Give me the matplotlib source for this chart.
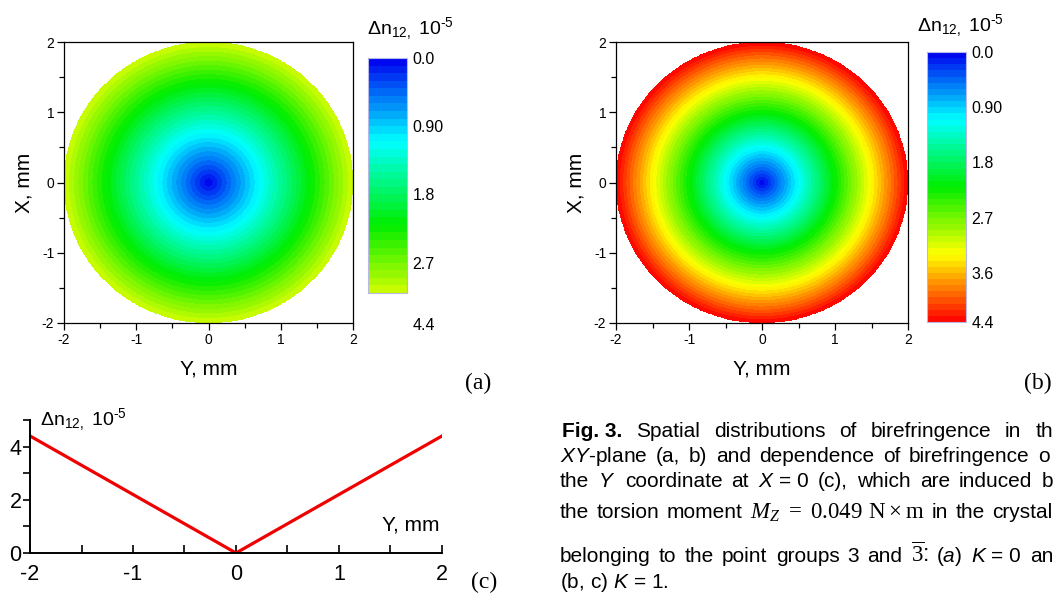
import numpy as np
import matplotlib
matplotlib.use("Agg")
import matplotlib.pyplot as plt
from matplotlib.colors import LinearSegmentedColormap, Normalize

plt.rcParams['font.family'] = ['Liberation Sans', 'DejaVu Sans']
plt.rcParams['axes.unicode_minus'] = False
plt.rcParams['mathtext.fontset'] = 'custom'
plt.rcParams['mathtext.rm'] = 'Liberation Sans'
plt.rcParams['mathtext.it'] = 'Liberation Sans:italic'
plt.rcParams['mathtext.bf'] = 'Liberation Sans:bold'
plt.rcParams['mathtext.sf'] = 'Liberation Serif'
plt.rcParams['mathtext.tt'] = 'Liberation Serif:italic'

# radial profiles of birefringence (10^-5)
r_profile = [0.0, 2.0]
dn_a = [0.0, 3.1]      # K = 0
dn_b = [0.0, 4.4]      # K = 1
radius = 2.0

levels_a = np.round(np.arange(0, 3.11, 0.1), 2)
levels_b = np.round(np.arange(0, 4.41, 0.1), 2)
cbar_ticks = [0.0, 0.9, 1.8, 2.7, 3.6, 4.4]
cbar_labels = ["0.0", "0.90", "1.8", "2.7", "3.6", "4.4"]

# profile along Y at X = 0
y_line = [-2.0, 0.0, 2.0]
dn_line = [4.4, 0.0, 4.4]

dn_title = "Δn$_{12,}$ 10$^{\u2010 5}$"

cmap = LinearSegmentedColormap.from_list(
    "origin_rainbow",
    [(0.0, "#0000F0"), (0.25, "#00FFFF"), (0.5, "#00EE00"),
     (0.75, "#FFFF00"), (1.0, "#FF0000")])

W, H = 1054, 597
fig = plt.figure(figsize=(W / 100, H / 100), dpi=100)
renderer = fig.canvas.get_renderer()


def box(l, t, r, b):
    # pixel box (from top-left) -> figure fraction rect
    return [l / W, 1 - b / H, (r - l) / W, (b - t) / H]


def ptext(px, py, s, **kw):
    return fig.text(px / W, 1 - py / H, s, **kw)


grid = np.linspace(-2, 2, 500)
YY, XX = np.meshgrid(grid, grid)
RR = np.hypot(XX, YY)


def disk_map(ax_rect, cax_rect, profile, levels, ticks, labels, title_xy):
    ax = fig.add_axes(box(*ax_rect))
    field = np.interp(RR, r_profile, profile)
    field = np.ma.masked_where(RR > radius, field)
    cs = ax.contourf(YY, XX, field, levels=levels, cmap=cmap,
                     norm=Normalize(0, 4.4))
    ax.set_xlim(-2, 2)
    ax.set_ylim(-2, 2)
    ax.set_xticks([-2, -1, 0, 1, 2])
    ax.set_yticks([-2, -1, 0, 1, 2])
    ax.set_xticks(np.arange(-2, 2.01, 0.5), minor=True)
    ax.set_yticks(np.arange(-2, 2.01, 0.5), minor=True)
    ax.tick_params(which='both', direction='out', top=False, right=False,
                   labelsize=10, pad=2)
    ax.tick_params(which='major', length=5, width=0.9)
    ax.tick_params(which='minor', length=3.5, width=0.9)
    ax.set_xlabel("Y, mm", fontsize=15, labelpad=9)
    ax.set_ylabel("X, mm", fontsize=15, labelpad=6)
    for s in ax.spines.values():
        s.set_linewidth(0.9)

    cax = fig.add_axes(box(*cax_rect))
    cb = fig.colorbar(cs, cax=cax)
    cax.invert_yaxis()
    cb.set_ticks(ticks, labels=labels)
    cax.tick_params(length=0, labelsize=11.5, pad=4)
    cb.outline.set_edgecolor("#b8b8e8")
    cb.outline.set_linewidth(0.8)
    ptext(title_xy[0], title_xy[1], dn_title, fontsize=14, ha='left', va='baseline')
    return ax


# (a) K = 0
disk_map((64, 42, 353, 323), (368, 58, 407, 293), dn_a, levels_a,
         cbar_ticks[:4], cbar_labels[:4], (367, 34))
ptext(413, 326, cbar_labels[-1], fontsize=11.5, ha='left', va='center')
# (b) K = 1
disk_map((616, 42, 908, 323), (927, 52, 966, 322), dn_b, levels_b,
         cbar_ticks, cbar_labels, (917, 31))

# (c) cross-section
axc = fig.add_axes(box(30, 420, 442, 553))
axc.plot(y_line, dn_line, color="#F00000", lw=2.3, solid_joinstyle='miter')
axc.set_xlim(-2, 2)
axc.set_ylim(0, 5)
axc.set_xticks([-2, -1, 0, 1, 2])
axc.set_xticks([-1.5, -0.5, 0.5, 1.5], minor=True)
axc.set_yticks([0, 2, 4])
axc.set_yticks([1, 3, 5], minor=True)
axc.spines['top'].set_visible(False)
axc.spines['right'].set_visible(False)
for s in ('left', 'bottom'):
    axc.spines[s].set_linewidth(1.4)
axc.tick_params(axis='x', which='both', direction='in', length=6, width=1.2,
                labelsize=15.5, pad=8)
axc.tick_params(axis='y', which='both', direction='out', length=5, width=1.2,
                labelsize=15.5, pad=1)
axc.text(0.025, 1.0, dn_title, transform=axc.transAxes,
         fontsize=14, ha='left', va='center')
axc.text(0.995, 0.14, "Y, mm", transform=axc.transAxes, fontsize=15,
         ha='right', va='bottom')

# panel letters
for lbl, (px, py) in [("(a)", (478, 383)), ("(b)", (1038, 383)), ("(c)", (484, 582))]:
    ptext(px, py, lbl, fontsize=17, family='Liberation Serif',
          ha='center', va='center')

# caption, justified lines
cap_fs = 15


def justify(words, x0, x1, py, bold_first=False, sizes=None):
    txts = []
    for i, w in enumerate(words):
        wt = 'bold' if (bold_first and i == 0) else 'normal'
        fs = sizes.get(i, cap_fs) if sizes else cap_fs
        txts.append(ptext(x0, py, w, fontsize=fs, fontweight=wt,
                          ha='left', va='baseline'))
    widths = [t.get_window_extent(renderer).width for t in txts]
    gap = (x1 - x0 - sum(widths)) / (len(words) - 1)
    x = x0
    for t, w in zip(txts, widths):
        t.set_x(x / W)
        x += w + gap


justify(["Fig. 3.", "Spatial", "distributions", "of", "birefringence", "in", "th"],
        562, 1053, 437, bold_first=True)
justify([r"$\mathit{XY}$-plane", "(a,", "b)", "and", "dependence", "of",
         "birefringence", "o"], 560, 1050, 462)
justify(["the", r"$\mathit{Y}$", "coordinate", "at", r"$\mathit{X}$ = 0", "(c),",
         "which", "are", "induced", "b"], 560, 1053, 487)
justify(["the", "torsion", "moment",
         r"$\mathtt{M}_{\mathtt{Z}}\mathsf{\;=\;0.049\ N\times m}$",
         "in", "the", "crystal"], 560, 1052, 518, sizes={3: 16.5})
justify(["belonging", "to", "the", "point", "groups", "3", "and",
         r"$\overline{\mathsf{3}}$:", r"($\mathit{a}$)", r"$\mathit{K}$ = 0", "an"],
        560, 1053, 562, sizes={7: 16.5})
ptext(560, 588, r"(b, c) $\mathit{K}$ = 1.", fontsize=cap_fs, ha='left', va='baseline')

fig.savefig("out.png", dpi=100)
